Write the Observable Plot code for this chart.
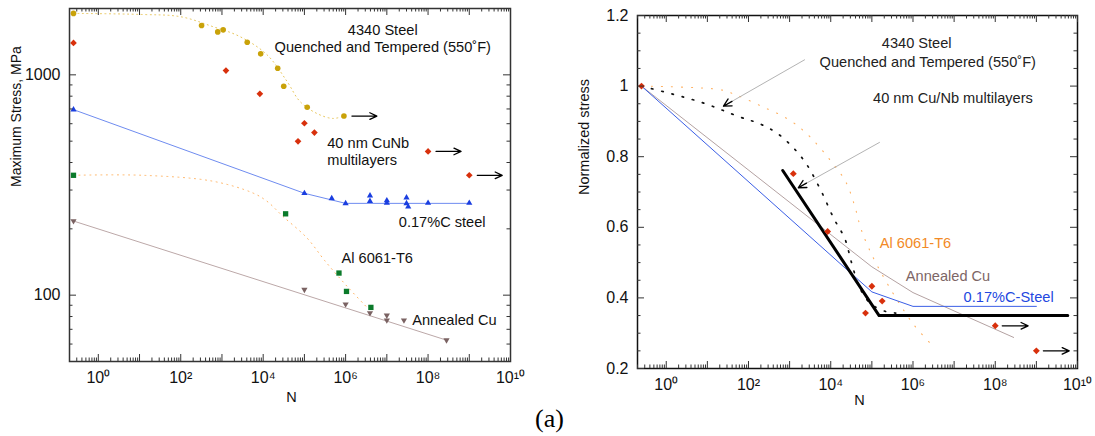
<!DOCTYPE html>
<html><head><meta charset="utf-8">
<script src="https://cdn.jsdelivr.net/npm/d3@7"></script>
<script src="https://cdn.jsdelivr.net/npm/@observablehq/plot@0.6"></script>
<style>
body{margin:0;background:#fff;}
#fig{position:relative;width:1095px;height:436px;background:#fff;font-family:"Liberation Sans",Arial,sans-serif;overflow:hidden}
#left{position:absolute;left:0;top:0}
#right{position:absolute;left:560px;top:0}
#tag{position:absolute;left:535px;top:406px;font-family:"Liberation Serif","Times New Roman",serif;font-size:26px;line-height:1;color:#000}
</style></head><body>
<div id="fig"><div id="left"></div><div id="right"></div><div id="tag">(a)</div></div>
<script>
// ---------- Left panel: maximum stress (MPa) vs N ----------
const steel4340N = [0.25, 320, 790, 1070, 4100, 8700, 22500, 31500, 117000, 910000];
const steel4340S = [1900, 1675, 1566, 1600, 1405, 1245, 1071, 888, 713, 650];
const fit4340N = [0.25, 10, 100, 600, 2750, 12300, 38000, 78000, 200000, 490000, 910000];
const fit4340S = [1900, 1880, 1835, 1655, 1490, 1235, 933, 757, 668, 634, 650];

const cuNbN = [0.25, 1250, 8300, 1e5, 1.75e5, 7e4, 1e8, 1e9];
const cuNbS = [1396, 1045, 820, 603, 547, 499, 449, 350];

const steel017N = [0.25, 1e5, 4.6e5, 1e6, 3.9e6, 3.9e6, 1e7, 1e7, 3e7, 3e7, 3.3e7, 1e8, 1e9];
const steel017S = [695, 290, 275, 261, 283, 267, 269, 262, 277, 261, 252, 262, 262];
const line017N = [0.25, 1e5, 1e6, 1e9];
const line017S = [695, 290, 261, 261];

const al6061N = [0.25, 35000, 690000, 1.05e6, 4.1e6];
const al6061S = [350, 234, 126, 104, 88];
const fitAlN = [0.25, 12, 600, 5600, 12300, 30000, 115000, 316000, 1.07e6, 3.3e6];
const fitAlS = [350, 350, 329, 291, 267, 228, 182, 143, 110, 88];

const cuN = [0.25, 1e5, 1e6, 3.9e6, 1e7, 1e7, 2.6e7, 2.8e8];
const cuS = [217, 106, 91, 83, 81, 77, 77, 62.5];
const lineCuN = [0.25, 2.8e8];
const lineCuS = [217, 62.5];

const runoutLeftN = [910000, 1e8, 1e9];
const runoutLeftS = [650, 449, 350];

// ---------- Right panel: normalized stress vs N ----------
const normCuNbN = [0.25, 1230, 8400, 1e5, 1.78e5, 7e4, 1e8, 1e9];
const normCuNbY = [1.0, 0.752, 0.588, 0.433, 0.391, 0.357, 0.321, 0.250];
const norm017N = [0.25, 1e5, 1e6, 1e9];
const norm017Y = [1.0, 0.417, 0.376, 0.376];
const normCuN = [0.25, 1e5, 1e6, 2.8e8];
const normCuY = [1.0, 0.488, 0.415, 0.288];
const normAlN = [0.25, 20, 43, 190, 1020, 3150, 10500, 23400, 39000, 56000, 142000, 1e6, 3.1e6];
const normAlY = [1.0, 0.99, 0.978, 0.945, 0.903, 0.856, 0.785, 0.728, 0.657, 0.591, 0.487, 0.327, 0.263];
const norm4340N = [0.25, 6.7, 63, 190, 590, 2150, 5500, 12000, 22000, 32000, 50000, 90000, 210000, 380000];
const norm4340Y = [1.0, 0.955, 0.912, 0.893, 0.860, 0.792, 0.709, 0.624, 0.568, 0.50, 0.43, 0.385, 0.362, 0.357];
const modelN = [680, 150000, 5.8e9];
const modelY = [0.761, 0.35, 0.35];
const runoutRightN = [1e8, 1e9];
const runoutRightY = [0.321, 0.250];

// labels
const leftLabels = ["4340 Steel\nQuenched and Tempered (550˚F)", "40 nm CuNb\nmultilayers", "0.17%C steel", "Al 6061-T6", "Annealed Cu"];
const leftLabelN = [7.96e6, 3.58e5, 1.95e7, 7.96e5, 4.13e7];
const leftLabelS = [1466, 450, 215, 148, 77.8];
const leftLabelAnchor = ["middle", "start", "start", "start", "start"];
const rightLabels = ["4340 Steel", "Quenched and Tempered (550˚F)", "40 nm Cu/Nb multilayers", "Al 6061-T6", "Annealed Cu", "0.17%C-Steel"];
const rightLabelN = [1.23e6, 2.29e6, 1.07e5, 1.56e5, 6.7e5, 1.7e7];
const rightLabelY = [1.122, 1.068, 0.965, 0.5535, 0.461, 0.402];
const rightLabelColor = ["#222", "#222", "#222", "#f28a26", "#7d6666", "#2247e0"];
const rightLabelAnchor = ["middle", "middle", "start", "start", "start", "start"];
const callout = [
  {x1: 2350, y1: 1.075, x2: 24.6, y2: 0.943},
  {x1: 156000, y1: 0.841, x2: 1620, y2: 0.712}
];

const xTickLabels = [1, 1e2, 1e4, 1e6, 1e8, 1e10];
const yTicksLeft = [100, 1000];
const yTicksRight = [0.2, 0.4, 0.6, 0.8, 1.0, 1.2];

// ---------- helpers ----------
const pts = (xs, ys) => xs.map((x, i) => ({x, y: ys[i]}));
const sup = {"0":"⁰","1":"¹","2":"²","3":"³","4":"⁴","5":"⁵","6":"⁶","7":"⁷","8":"⁸","9":"⁹","-":"⁻"};
const fmtPow = d => "10" + String(Math.round(Math.log10(d))).split("").map(c => sup[c]).join("");
const xMajor = d3.range(0, 11).map(e => 10 ** e);
const xMinor = d3.range(-1, 10).flatMap(e => d3.range(2, 10).map(k => k * 10 ** e)).filter(v => v >= 0.2 && v < 1e10);
const FONT = "'Liberation Sans', Arial, Helvetica, sans-serif";
const AX = "#333";

function ticks(xMaj, xMin, yMaj, yMin, H, W) {
  const M = 7, m = 3.5, s = {stroke: AX, strokeWidth: 1};
  return [
    Plot.tickX(xMaj, {x: d => d, insetTop: H - M, ...s}),
    Plot.tickX(xMaj, {x: d => d, insetBottom: H - M, ...s}),
    Plot.tickX(xMin, {x: d => d, insetTop: H - m, ...s}),
    Plot.tickX(xMin, {x: d => d, insetBottom: H - m, ...s}),
    Plot.tickY(yMaj, {y: d => d, insetRight: W - M, ...s}),
    Plot.tickY(yMaj, {y: d => d, insetLeft: W - M, ...s}),
    Plot.tickY(yMin, {y: d => d, insetRight: W - m, ...s}),
    Plot.tickY(yMin, {y: d => d, insetLeft: W - m, ...s})
  ];
}
const labelRows = (texts, xs, ys, extra) => texts.map((t, i) => ({t, x: xs[i], y: ys[i], ...extra(i)}));

// ---------- left plot ----------
const LW = 540, LH = 436, Lm = {l: 69, r: 30, t: 8, b: 75};
const LPW = LW - Lm.l - Lm.r, LPH = LH - Lm.t - Lm.b;
const yMinorLeft = [60, 70, 80, 90, 200, 300, 400, 500, 600, 700, 800, 900];
const leftRows = labelRows(leftLabels, leftLabelN, leftLabelS, i => ({a: leftLabelAnchor[i]}));

const left = Plot.plot({
  width: LW, height: LH,
  marginLeft: Lm.l, marginRight: Lm.r, marginTop: Lm.t, marginBottom: Lm.b,
  style: {fontFamily: FONT, fontSize: "16px", background: "white", color: "#111"},
  x: {type: "log", domain: [0.2, 1e10], label: null},
  y: {type: "log", domain: [50, 2000], label: null},
  marks: [
    Plot.line(pts(fit4340N, fit4340S), {x: "x", y: "y", curve: "catmull-rom", stroke: "#e8c65a", strokeWidth: 1, strokeDasharray: "1,3.5"}),
    Plot.line(pts(fitAlN, fitAlS), {x: "x", y: "y", curve: "catmull-rom", stroke: "#ffb565", strokeWidth: 1, strokeDasharray: "1,4.5"}),
    Plot.line(pts(line017N, line017S), {x: "x", y: "y", stroke: "#6f8cf0", strokeWidth: 1}),
    Plot.line(pts(lineCuN, lineCuS), {x: "x", y: "y", stroke: "#bca8a8", strokeWidth: 1}),
    Plot.dot(pts(steel4340N, steel4340S), {x: "x", y: "y", r: 2.8, fill: "#c9a209", symbol: "circle"}),
    Plot.dot(pts(cuNbN, cuNbS), {x: "x", y: "y", r: 3, fill: "#d8300c", symbol: "diamond2"}),
    Plot.dot(pts(steel017N, steel017S), {x: "x", y: "y", r: 2.3, fill: "#1a3ee0", symbol: "triangle"}),
    Plot.dot(pts(al6061N, al6061S), {x: "x", y: "y", r: 3, fill: "#0b7a2a", symbol: "square"}),
    Plot.dot(pts(cuN, cuS), {x: "x", y: "y", r: 2.3, fill: "#7a6262", symbol: "triangle", rotate: 180}),
    Plot.arrow(pts(runoutLeftN, runoutLeftS), {x1: "x", y1: "y", x2: d => d.x * 10 ** 0.8, y2: "y", insetStart: 8, stroke: "black", strokeWidth: 1.3, headLength: 9, headAngle: 50}),
    Plot.text(leftRows.filter(d => d.a === "middle"), {x: "x", y: "y", text: "t", fontSize: 14.6, lineHeight: 1.15, fill: "#111", textAnchor: "middle"}),
    Plot.text(leftRows.filter(d => d.a === "start"), {x: "x", y: "y", text: "t", fontSize: 14.6, lineHeight: 1.15, fill: "#111", textAnchor: "start"}),
    Plot.frame({stroke: AX, strokeWidth: 1.5}),
    ...ticks(xMajor, xMinor, yTicksLeft, yMinorLeft, LPH, LPW),
    Plot.axisX({ticks: xTickLabels, tickFormat: fmtPow, tickSize: 0, tickPadding: 10, label: null, fontSize: 16}),
    Plot.axisY({ticks: yTicksLeft, tickFormat: d => String(d), tickSize: 0, tickPadding: 9, label: null, fontSize: 16}),
    Plot.text(["Maximum Stress, MPa"], {frameAnchor: "left", dx: -53, dy: 2, rotate: -90, text: d => d, fontSize: 14, fill: "#111"}),
    Plot.text(["N"], {frameAnchor: "bottom", dy: 40, dx: 1.5, text: d => d, fontSize: 14.5, fill: "#111"})
  ]
});
document.getElementById("left").appendChild(left);

// ---------- right plot ----------
const RW = 535, RH = 436, Rm = {l: 77, r: 18, t: 15, b: 68};
const RPW = RW - Rm.l - Rm.r, RPH = RH - Rm.t - Rm.b;
const yMinorRight = d3.range(0.25, 1.2, 0.05).map(v => +v.toFixed(2)).filter(v => Math.abs(v * 5 - Math.round(v * 5)) > 1e-6);
const rightRows = labelRows(rightLabels, rightLabelN, rightLabelY, i => ({c: rightLabelColor[i], a: rightLabelAnchor[i]}));

const right = Plot.plot({
  width: RW, height: RH,
  marginLeft: Rm.l, marginRight: Rm.r, marginTop: Rm.t, marginBottom: Rm.b,
  style: {fontFamily: FONT, fontSize: "16px", background: "white", color: "#111"},
  x: {type: "log", domain: [0.2, 1e10], label: null},
  y: {type: "linear", domain: [0.2, 1.2], label: null},
  marks: [
    Plot.line(pts(normAlN, normAlY), {x: "x", y: "y", curve: "catmull-rom", stroke: "#ffb060", strokeWidth: 1.1, strokeDasharray: "1,9"}),
    Plot.line(pts(norm4340N, norm4340Y), {x: "x", y: "y", curve: "catmull-rom", stroke: "#111", strokeWidth: 1.7, strokeDasharray: "1.5,9"}),
    Plot.line(pts(normCuN, normCuY), {x: "x", y: "y", stroke: "#b4a2a2", strokeWidth: 1}),
    Plot.line(pts(norm017N, norm017Y), {x: "x", y: "y", stroke: "#3a5ee6", strokeWidth: 1}),
    Plot.line(pts(modelN, modelY), {x: "x", y: "y", stroke: "black", strokeWidth: 3}),
    Plot.link(callout, {x1: "x1", y1: "y1", x2: "x2", y2: "y2", stroke: "#aaa", strokeWidth: 0.9}),
    Plot.arrow(callout, {x1: "x1", y1: "y1", x2: "x2", y2: "y2", insetStart: 84, stroke: "black", strokeWidth: 1.3, headLength: 10, headAngle: 55}),
    Plot.dot(pts(normCuNbN, normCuNbY), {x: "x", y: "y", r: 3.1, fill: "#d8300c", symbol: "diamond2"}),
    Plot.arrow(pts(runoutRightN, runoutRightY), {x1: "x", y1: "y", x2: d => d.x * 10 ** 0.8, y2: "y", insetStart: 7, stroke: "black", strokeWidth: 1.3, headLength: 9, headAngle: 50}),
    Plot.text(rightRows.filter(d => d.a === "middle"), {x: "x", y: "y", text: "t", fill: "c", fontSize: 14.6, textAnchor: "middle"}),
    Plot.text(rightRows.filter(d => d.a === "start"), {x: "x", y: "y", text: "t", fill: "c", fontSize: 14.6, textAnchor: "start"}),
    Plot.frame({stroke: "#111", strokeWidth: 1.5}),
    ...ticks(xMajor, xMinor, yTicksRight, yMinorRight, RPH, RPW),
    Plot.axisX({ticks: xTickLabels, tickFormat: fmtPow, tickSize: 0, tickPadding: 10, label: null, fontSize: 16}),
    Plot.axisY({ticks: yTicksRight, tickFormat: d => String(+d.toFixed(1)), tickSize: 0, tickPadding: 9, label: null, fontSize: 16}),
    Plot.text(["Normalized stress"], {frameAnchor: "left", dx: -53, dy: 3, rotate: -90, text: d => d, fontSize: 14.5, fill: "#111"}),
    Plot.text(["N"], {frameAnchor: "bottom", dy: 36, dx: 2, text: d => d, fontSize: 14.5, fill: "#111"})
  ]
});
document.getElementById("right").appendChild(right);
</script>
</body></html>
